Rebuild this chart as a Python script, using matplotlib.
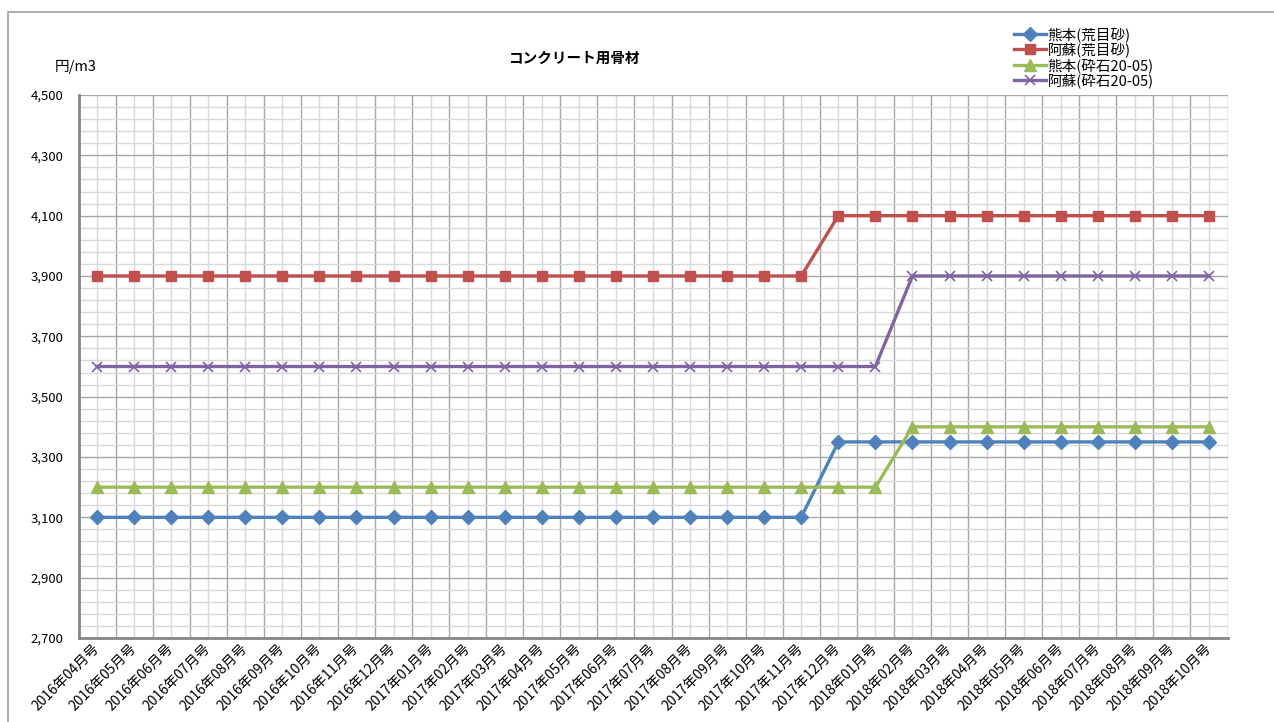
import matplotlib
matplotlib.use("Agg")
import matplotlib.pyplot as plt
from matplotlib.patches import Rectangle
from matplotlib.ticker import FixedLocator, FuncFormatter
import matplotlib.transforms as mtransforms

plt.rcParams['font.family'] = ['Noto Sans CJK JP', 'DejaVu Sans']

months = ["2016年04月号", "2016年05月号", "2016年06月号", "2016年07月号", "2016年08月号",
          "2016年09月号", "2016年10月号", "2016年11月号", "2016年12月号", "2017年01月号",
          "2017年02月号", "2017年03月号", "2017年04月号", "2017年05月号", "2017年06月号",
          "2017年07月号", "2017年08月号", "2017年09月号", "2017年10月号", "2017年11月号",
          "2017年12月号", "2018年01月号", "2018年02月号", "2018年03月号", "2018年04月号",
          "2018年05月号", "2018年06月号", "2018年07月号", "2018年08月号", "2018年09月号",
          "2018年10月号"]

kumamoto_sand = [3100] * 20 + [3350] * 11
aso_sand = [3900] * 20 + [4100] * 11
kumamoto_stone = [3200] * 22 + [3400] * 9
aso_stone = [3600] * 22 + [3900] * 9

y_major = list(range(2700, 4501, 200))
y_minor = list(range(2700, 4501, 40))

series = [
    ("熊本(荒目砂)", kumamoto_sand, "#4F81BD", "D", 7, 1.0),
    ("阿蘇(荒目砂)", aso_sand, "#C0504D", "s", 7, 1.0),
    ("熊本(砕石20-05)", kumamoto_stone, "#9BBB59", "^", 8, 1.0),
    ("阿蘇(砕石20-05)", aso_stone, "#8064A2", "x", 7, 1.2),
]

W, H = 1274, 722
fig = plt.figure(figsize=(W / 100, H / 100), dpi=100)
ax = fig.add_axes([78.5 / W, 1 - 638 / H, (1227.5 - 78.5) / W, (638 - 95) / H])

x = list(range(len(months)))
for label, vals, color, marker, ms, mew in series:
    ax.plot(x, vals, color=color, lw=2.4, marker=marker, ms=ms, mew=mew,
            mec=color, mfc=color, label=label, zorder=3)

ax.set_xlim(-0.5, len(months) - 0.5)
ax.set_ylim(2700, 4500)
ax.yaxis.set_major_locator(FixedLocator(y_major))
ax.yaxis.set_minor_locator(FixedLocator(y_minor))
ax.yaxis.set_major_formatter(FuncFormatter(lambda v, p: f"{int(v):,}"))
ax.set_xticks(x)
ax.set_xticklabels(months, rotation=45, ha='right', va='center',
                   rotation_mode='anchor', fontsize=10)
offset = mtransforms.ScaledTranslation(5 / 100, 0, fig.dpi_scale_trans)
for lab in ax.get_xticklabels():
    lab.set_transform(lab.get_transform() + offset)
ax.set_xticks([i - 0.5 for i in range(len(months) + 1)], minor=True)

ax.grid(which='major', axis='y', color='#A6A6A6', lw=1.0, zorder=0)
ax.grid(which='minor', axis='y', color='#D9D9D9', lw=1.0, zorder=0)
ax.grid(which='minor', axis='x', color='#A6A6A6', lw=1.0, zorder=0)
ax.grid(which='major', axis='x', color='#D9D9D9', lw=1.0, zorder=0)
ax.set_axisbelow(True)

ax.tick_params(which='both', length=0)
ax.tick_params(axis='y', labelsize=9.5, pad=11, colors='#000000')
ax.tick_params(axis='x', pad=6)

for s in ['top', 'right']:
    ax.spines[s].set_visible(False)
for s in ['left', 'bottom']:
    ax.spines[s].set_color('#868686')
    ax.spines[s].set_linewidth(2)

fig.text(575 / W, 1 - 58 / H, "コンクリート用骨材", ha='center', va='center',
         fontsize=10.5, fontweight='bold')
fig.text(55 / W, 1 - 67 / H, "円/m3", ha='left', va='center', fontsize=10.5)

leg = fig.legend(loc='upper left', bbox_to_anchor=(1008 / W, 1 - 21 / H),
                 frameon=False, fontsize=10.5, handlelength=2.2, handletextpad=0.1,
                 labelspacing=0.05, borderaxespad=0)

fig.add_artist(Rectangle((8 / W, -0.1), 1.2, 1 - 12 / H + 0.1,
                         transform=fig.transFigure, fill=False,
                         edgecolor='#A0A0A0', lw=1.2))

fig.savefig("out.png", dpi=100)
